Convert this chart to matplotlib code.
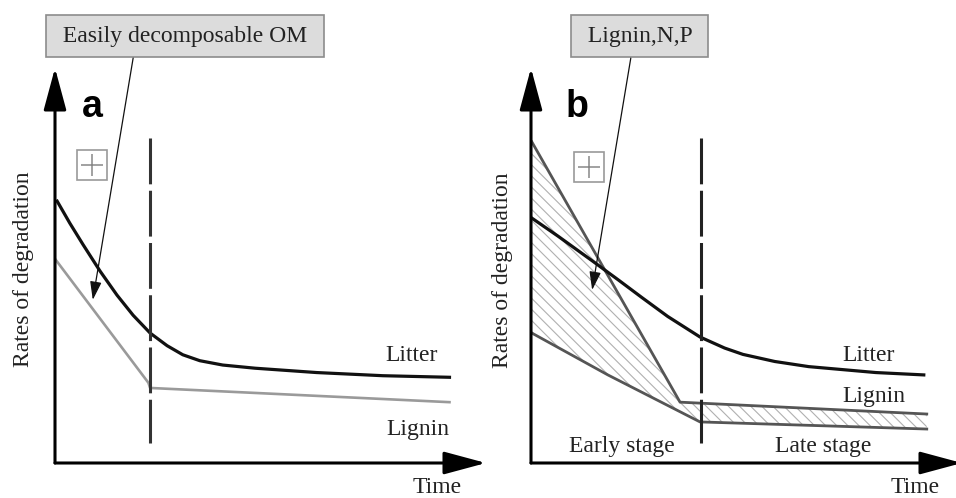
import matplotlib
matplotlib.use('Agg')
import matplotlib.pyplot as plt

plt.rcParams['font.family'] = ['Liberation Serif', 'DejaVu Serif']
plt.rcParams['hatch.linewidth'] = 0.8

# panel a: degradation rate vs time
litter_a_t = [0.05, 0.35, 0.66, 1.06, 1.46, 1.84, 2.24, 2.64, 3.01, 3.41, 3.95, 4.71, 6.16, 7.72, 9.29]
litter_a_r = [6.63, 6.07, 5.53, 4.86, 4.25, 3.74, 3.29, 2.97, 2.74, 2.59, 2.48, 2.40, 2.29, 2.21, 2.17]
lignin_a_t = [0.02, 2.20, 2.24, 9.29]
lignin_a_r = [5.14, 2.03, 1.90, 1.54]
stage_a = 2.24

# panel b
litter_b_t = [0.02, 0.64, 1.44, 2.05, 2.61, 3.22, 3.98, 4.56, 4.99, 5.74, 6.54, 8.12, 9.25]
litter_b_r = [6.20, 5.74, 5.12, 4.64, 4.19, 3.71, 3.19, 2.91, 2.75, 2.57, 2.44, 2.29, 2.23]
lignin_hi_t = [0.02, 3.51, 9.32]
lignin_hi_r = [8.13, 1.54, 1.24]
lignin_lo_t = [0.02, 1.81, 3.98, 9.32]
lignin_lo_r = [3.29, 2.23, 1.04, 0.86]
stage_b = 4.0

stage_span = [8.23, 0.51]

fig = plt.figure(figsize=(9.56, 4.98), dpi=100)
W, H = 956, 498
ax_a = fig.add_axes([55 / W, 35 / H, 431 / W, 395 / H])
ax_b = fig.add_axes([531 / W, 35 / H, 431 / W, 395 / H])

axis_arrow = dict(arrowstyle='-|>,head_length=1.3,head_width=0.35', lw=2.2,
                  color='black', mutation_scale=20, shrinkA=0, shrinkB=0)
note_arrow = dict(arrowstyle='-|>,head_length=0.7,head_width=0.22', lw=0.9,
                  color='#111111', mutation_scale=16, shrinkA=0, shrinkB=0)
box_style = dict(boxstyle='square,pad=0.45', fc='#dcdcdc', ec='#8c8c8c', lw=1.2)
txt = dict(fontsize=17, color='#222222')


def setup(ax):
    ax.set_xlim(0, 10.15)
    ax.set_ylim(0, 10)
    ax.axis('off')
    ax.annotate('', xy=(1, 0), xytext=(0, 0), xycoords='axes fraction',
                arrowprops=axis_arrow, annotation_clip=False)
    ax.annotate('', xy=(0, 1), xytext=(0, 0), xycoords='axes fraction',
                arrowprops=axis_arrow, annotation_clip=False)


def plus_box(ax, x, y):
    ax.plot(x, y, marker='s', ms=22, mfc='none', mec='#999999', mew=1.2, clip_on=False)
    ax.plot(x, y, marker='+', ms=16, mec='#888888', mew=1.1, clip_on=False)


# ---- panel a ----
setup(ax_a)
ax_a.plot(lignin_a_t, lignin_a_r, color='#9a9a9a', lw=1.9)
ax_a.plot(litter_a_t, litter_a_r, color='#111111', lw=2.3)
ax_a.plot([stage_a, stage_a], stage_span, color='#333333', lw=2.2, dashes=(15, 2.1))
ax_a.text(0.87, 9.01, 'a', family='Liberation Sans', weight='bold', fontsize=27,
          ha='center', va='center')
plus_box(ax_a, 0.88, 7.54)
ax_a.text(3.06, 10.81, ' Easily decomposable OM ', ha='center', va='center',
          bbox=box_style, **txt)
ax_a.annotate('', xy=(0.89, 4.13), xytext=(1.84, 10.25), arrowprops=note_arrow,
              annotation_clip=False)
ax_a.text(8.40, 2.58, 'Litter', ha='center', va='baseline', **txt)
ax_a.text(8.54, 0.70, 'Lignin', ha='center', va='baseline', **txt)
ax_a.text(9.01, -0.76, 'Time', ha='center', va='baseline', **txt)
ax_a.text(-0.75, 4.91, 'Rates of degradation', rotation=90, ha='center', va='center', **txt)

# ---- panel b ----
setup(ax_b)
ax_b.fill(lignin_hi_t + lignin_lo_t[::-1], lignin_hi_r + lignin_lo_r[::-1],
          facecolor='none', edgecolor='#b0b0b0', lw=0, hatch='\\\\\\')
ax_b.plot(lignin_hi_t, lignin_hi_r, color='#555555', lw=2.0)
ax_b.plot(lignin_lo_t, lignin_lo_r, color='#555555', lw=2.0)
ax_b.plot(litter_b_t, litter_b_r, color='#111111', lw=2.3)
ax_b.plot([stage_b, stage_b], stage_span, color='#222222', lw=2.2, dashes=(15, 2.1))
ax_b.text(1.08, 9.01, 'b', family='Liberation Sans', weight='bold', fontsize=27,
          ha='center', va='center')
plus_box(ax_b, 1.36, 7.49)
ax_b.text(2.56, 10.81, ' Lignin,N,P ', ha='center', va='center', bbox=box_style, **txt)
ax_b.annotate('', xy=(1.44, 4.38), xytext=(2.35, 10.25), arrowprops=note_arrow,
              annotation_clip=False)
ax_b.text(7.95, 2.58, 'Litter', ha='center', va='baseline', **txt)
ax_b.text(8.07, 1.54, 'Lignin', ha='center', va='baseline', **txt)
ax_b.text(2.14, 0.28, 'Early stage', ha='center', va='baseline', **txt)
ax_b.text(6.87, 0.28, 'Late stage', ha='center', va='baseline', **txt)
ax_b.text(9.04, -0.76, 'Time', ha='center', va='baseline', **txt)
ax_b.text(-0.68, 4.89, 'Rates of degradation', rotation=90, ha='center', va='center', **txt)

fig.savefig('out.png', dpi=100)
